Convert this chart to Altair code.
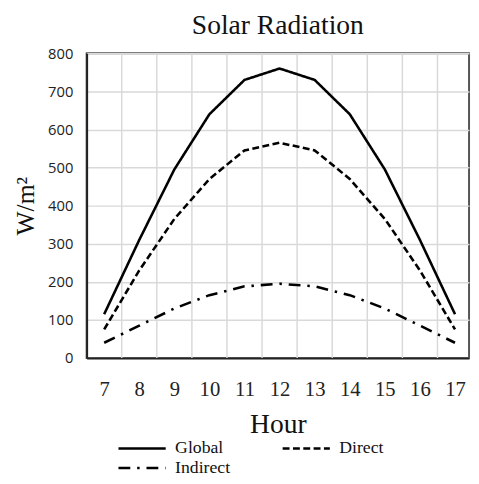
import altair as alt
import pandas as pd

hours = [7, 8, 9, 10, 11, 12, 13, 14, 15, 16, 17]
global_rad = [115, 310, 495, 640, 730, 760, 730, 640, 495, 310, 115]
direct_rad = [75, 230, 365, 470, 545, 565, 545, 470, 365, 230, 75]
indirect_rad = [40, 85, 130, 165, 188, 195, 188, 165, 130, 85, 40]
series = ["Global", "Direct", "Indirect"]
grid_positions = [7.5, 8.5, 9.5, 10.5, 11.5, 12.5, 13.5, 14.5, 15.5, 16.5]
y_ticks = [0, 100, 200, 300, 400, 500, 600, 700, 800]

rows = []
for name, vals in zip(series, [global_rad, direct_rad, indirect_rad]):
    for h, v in zip(hours, vals):
        rows.append({"Hour": h, "Value": v, "Series": name})
df = pd.DataFrame(rows)

SERIF = "Liberation Serif"
xscale = alt.Scale(domain=[6.5, 17.4], nice=False, zero=False)
xaxis = alt.Axis(values=hours, grid=False, ticks=False, title="Hour",
                 labelFont=SERIF, labelFontSize=21, labelColor="#222",
                 labelPadding=21, titleFont=SERIF, titleFontSize=28,
                 titleFontWeight="normal", titleColor="#111", titlePadding=12,
                 domainColor="#222", domainWidth=2)

lines = alt.Chart(df).mark_line(color="black", strokeWidth=2.6).encode(
    x=alt.X("Hour:Q", scale=xscale, axis=xaxis),
    y=alt.Y("Value:Q", scale=alt.Scale(domain=[0, 800], nice=False),
            axis=alt.Axis(values=y_ticks, grid=True, gridColor="#d9d9d9", gridWidth=1.5,
                          ticks=False, title="W/m²", labelFont="Open Sans",
                          labelFontSize=15, labelColor="#222", labelPadding=14,
                          titleFont=SERIF, titleFontSize=26, titleFontWeight="normal",
                          titleColor="#111", titlePadding=9,
                          domainColor="#222", domainWidth=2)),
    strokeDash=alt.StrokeDash("Series:N",
        scale=alt.Scale(domain=series, range=[[1, 0], [7, 3.5], [12, 7, 2.5, 7]]),
        sort=series,
        legend=alt.Legend(title=None, orient="none", legendX=31, legendY=391,
                          direction="horizontal", columns=2, columnPadding=48,
                          rowPadding=0,
                          symbolType="M-1,0H4", symbolSize=369, symbolStrokeWidth=2.6,
                          symbolStrokeColor="black", symbolFillColor="transparent",
                          labelFont=SERIF, labelFontSize=18,
                          labelColor="#111", labelOffset=37)),
    detail="Series:N",
)

grid_df = pd.DataFrame({"Hour": grid_positions})
vgrid = alt.Chart(grid_df).mark_rule(color="#d9d9d9", strokeWidth=1.5).encode(
    x=alt.X("Hour:Q", scale=xscale, axis=xaxis),
)

chart = alt.layer(vgrid, lines).properties(
    width=389, height=310,
    title=alt.Title("Solar Radiation", font=SERIF, fontSize=28, fontWeight="normal",
                    color="#111", anchor="middle", offset=7),
    autosize=alt.AutoSizeParams(type="none"),
    padding={"left": 80, "top": 42, "right": 2, "bottom": 116},
).configure_view(stroke="#555", strokeWidth=2)

chart.save("out.html", embed_options={"renderer": "svg", "actions": False})
